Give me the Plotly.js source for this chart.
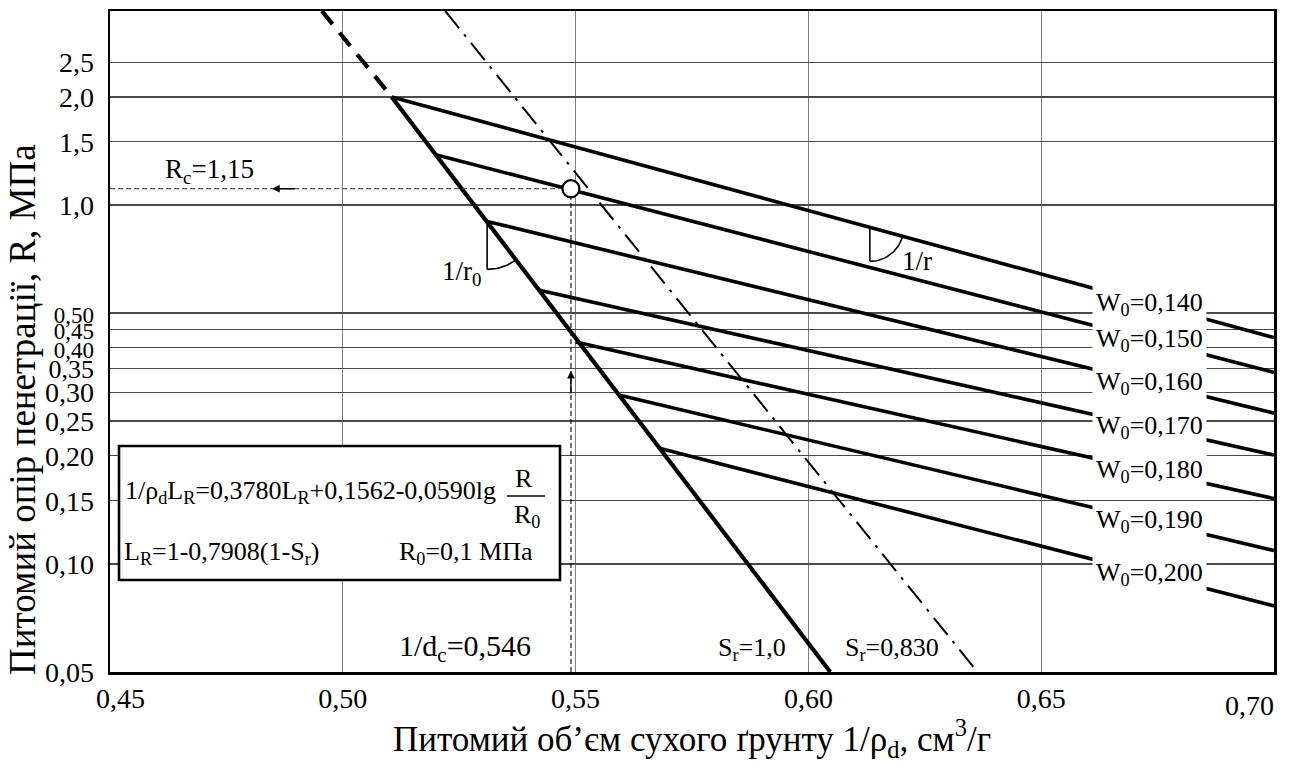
<!DOCTYPE html>
<html><head><meta charset="utf-8">
<script src="https://cdn.plot.ly/plotly-3.0.1.min.js"></script>
<style>body{margin:0;background:#fff}#chart{width:1289px;height:771px}</style>
</head><body><div id="chart"></div>
<script>
// ---------------- data ----------------
const xTickVals = [0.45, 0.50, 0.55, 0.60, 0.65, 0.70];
const xTickText = ['0,45', '0,50', '0,55', '0,60', '0,65', '0,70'];
const yTickVals = [0.05, 0.10, 0.15, 0.20, 0.25, 0.30, 0.35, 0.40, 0.45, 0.50, 1.0, 1.5, 2.0, 2.5];
const yTickText = ['0,05', '0,10', '0,15', '0,20', '0,25', '0,30', '0,35', '0,40', '0,45', '0,50', '1,0', '1,5', '2,0', '2,5'];

// saturation line Sr = 1,0 (solid) and its dashed extrapolation above R = 2,0
const sr1X = [0.5105, 0.6047];
const sr1R = [2.0, 0.05];
const sr1ExtX = [0.4955, 0.5105];
const sr1ExtR = [3.47, 2.0];
// line Sr = 0,830 (dash-dot)
const sr083X = [0.522, 0.6363];
const sr083R = [3.47, 0.05];

// constant initial-moisture lines W0
const w0Labels = ['0,140', '0,150', '0,160', '0,170', '0,180', '0,190', '0,200'];
const w0StartX = [0.5105, 0.520, 0.531, 0.542, 0.550, 0.5595, 0.568];
const w0StartR = [2.0, 1.38, 0.90, 0.58, 0.415, 0.295, 0.21];
const w0EndX = [0.70, 0.70, 0.70, 0.70, 0.70, 0.70, 0.70];
const w0EndR = [0.427, 0.3415, 0.263, 0.201, 0.152, 0.109, 0.0764];

// determined point (drawn position)
const pointX = [0.549];
const pointR = [1.11];

// ---------------- layout constants ----------------
const FONT = 'Liberation Serif, Times New Roman, serif';
const W = 1289, H = 771;
const M = {l: 110, r: 15, t: 11, b: 99};
const plotW = W - M.l - M.r, plotH = H - M.t - M.b;
const xRange = [0.45, 0.70];
const yRange = [Math.log10(0.05), Math.log10(3.47)];
const pxX = plotW / (xRange[1] - xRange[0]);
const pxDec = plotH / (yRange[1] - yRange[0]);
const lg = Math.log10;

function lgAt(x0, r0, x1, r1, x) {
  const t = (x - x0) / (x1 - x0);
  return lg(r0) + t * (lg(r1) - lg(r0));
}
function screenAngle(x0, r0, x1, r1) {
  const dx = (x1 - x0) * pxX;
  const dy = -(lg(r1) - lg(r0)) * pxDec;
  return Math.atan2(dy, dx);
}
function arcPts(cx, cLg, rad, a0, a1, n) {
  const xs = [], ys = [];
  for (let i = 0; i <= n; i++) {
    const a = a0 + (a1 - a0) * i / n;
    xs.push(cx + rad * Math.cos(a) / pxX);
    ys.push(Math.pow(10, cLg - rad * Math.sin(a) / pxDec));
  }
  return {x: xs, y: ys};
}

const traces = [];
const black = '#000';

// W0 lines
for (let i = 0; i < w0Labels.length; i++) {
  traces.push({x: [w0StartX[i], w0EndX[i]], y: [w0StartR[i], w0EndR[i]], mode: 'lines',
    line: {color: black, width: 3.6}});
}
// Sr lines
traces.push({x: sr1X, y: sr1R, mode: 'lines', line: {color: black, width: 4.2}});
traces.push({x: sr1ExtX, y: sr1ExtR, mode: 'lines', line: {color: black, width: 4.2, dash: '17px,11px'}});
traces.push({x: sr083X, y: sr083R, mode: 'lines', line: {color: black, width: 2, dash: '22px,8px,3px,8px'}});

// guide lines to the axes
traces.push({x: [xRange[0], pointX[0]], y: [pointR[0], pointR[0]], mode: 'lines',
  line: {color: '#555', width: 1.2, dash: '5px,3px'}});
traces.push({x: [pointX[0], pointX[0]], y: [0.05, pointR[0]], mode: 'lines',
  line: {color: '#000', width: 1.1, dash: '5px,3px'}});

// angle marks: 1/r0 at start of W0=0,160 and 1/r on W0=0,140
const i160 = 2;
const c0x = w0StartX[i160], c0lg = lg(w0StartR[i160]);
const rad0 = 48;
const tick0Bottom = Math.pow(10, c0lg - rad0 / pxDec);
traces.push({x: [c0x, c0x], y: [w0StartR[i160], tick0Bottom], mode: 'lines', line: {color: black, width: 1.6}});
const aSr1 = screenAngle(sr1X[0], sr1R[0], sr1X[1], sr1R[1]);
const arc0 = arcPts(c0x, c0lg, rad0, Math.PI / 2, aSr1, 20);
traces.push({x: arc0.x, y: arc0.y, mode: 'lines', line: {color: black, width: 1.6}});

const i140 = 0;
const c1x = 0.6132;
const c1lg = lgAt(w0StartX[i140], w0StartR[i140], w0EndX[i140], w0EndR[i140], c1x);
const rad1 = 34;
const tick1Bottom = Math.pow(10, c1lg - rad1 / pxDec);
traces.push({x: [c1x, c1x], y: [Math.pow(10, c1lg), tick1Bottom], mode: 'lines', line: {color: black, width: 1.6}});
const aW = screenAngle(w0StartX[i140], w0StartR[i140], w0EndX[i140], w0EndR[i140]);
const arc1 = arcPts(c1x, c1lg, rad1, Math.PI / 2, aW, 20);
traces.push({x: arc1.x, y: arc1.y, mode: 'lines', line: {color: black, width: 1.6}});

// point
traces.push({x: pointX, y: pointR, mode: 'markers',
  marker: {symbol: 'circle', size: 17, color: '#fff', line: {color: black, width: 2.2}}});

traces.forEach(t => { t.showlegend = false; t.hoverinfo = 'skip'; t.type = 'scatter'; });
// empty trace that only carries the twin x axis (used for the right-aligned last tick label)
traces.push({type: 'scatter', x: [], y: [], xaxis: 'x2', yaxis: 'y', mode: 'lines', showlegend: false, hoverinfo: 'skip'});

// ---------------- annotations ----------------
const ann = [];
const base = {showarrow: false, xanchor: 'center', yanchor: 'middle'};
const labelX = 0.6733;
for (let i = 0; i < w0Labels.length; i++) {
  ann.push(Object.assign({}, base, {x: labelX, y: lgAt(w0StartX[i], w0StartR[i], w0EndX[i], w0EndR[i], labelX),
    xref: 'x', yref: 'y', text: 'W<sub>0</sub>=' + w0Labels[i],
    font: {family: FONT, size: 26, color: black}, bgcolor: '#fff', borderpad: 3}));
}
ann.push(Object.assign({}, base, {x: 0.4713, y: lg(pointR[0]), xref: 'x', yref: 'y', yshift: 18,
  text: 'R<sub>c</sub>=1,15', font: {family: FONT, size: 27, color: black}}));
ann.push({x: 0.4848, y: lg(pointR[0]), xref: 'x', yref: 'y', ax: 24, ay: 0, text: '',
  showarrow: true, arrowhead: 2, arrowsize: 1.1, arrowwidth: 1.4, arrowcolor: black});
ann.push({x: pointX[0], y: lg(0.345), xref: 'x', yref: 'y', ax: 0, ay: 24, text: '',
  showarrow: true, arrowhead: 2, arrowsize: 1.1, arrowwidth: 1.4, arrowcolor: black});
ann.push(Object.assign({}, base, {x: c0x, y: lg(tick0Bottom), xref: 'x', yref: 'y', xanchor: 'right', xshift: -4, yshift: -4,
  text: '1/r<sub>0</sub>', font: {family: FONT, size: 27, color: black}}));
ann.push(Object.assign({}, base, {x: c1x, y: lg(tick1Bottom), xref: 'x', yref: 'y', xanchor: 'left', xshift: 30, yshift: 0,
  text: '1/r', font: {family: FONT, size: 27, color: black}}));
ann.push(Object.assign({}, base, {x: 0.5262, y: 0, xref: 'x', yref: 'paper', yanchor: 'bottom', yshift: 3,
  text: '1/d<sub>c</sub>=0,546', font: {family: FONT, size: 30, color: black}}));
ann.push(Object.assign({}, base, {x: 0.5879, y: 0, xref: 'x', yref: 'paper', yanchor: 'bottom', yshift: 5,
  text: 'S<sub>r</sub>=1,0', font: {family: FONT, size: 26, color: black}}));
ann.push(Object.assign({}, base, {x: 0.618, y: 0, xref: 'x', yref: 'paper', yanchor: 'bottom', yshift: 5,
  text: 'S<sub>r</sub>=0,830', font: {family: FONT, size: 26, color: black}}));

// formula box contents (paper coordinates)
const px2paperX = px => (px - M.l) / plotW;
const px2paperY = py => (H - M.b - py) / plotH;
const fFont = {family: FONT, size: 26, color: black};
ann.push(Object.assign({}, base, {x: px2paperX(123), y: px2paperY(492), xref: 'paper', yref: 'paper', xanchor: 'left',
  text: '1/ρ<sub>d</sub>L<sub>R</sub>=0,3780L<sub>R</sub>+0,1562-0,0590lg', font: fFont}));
ann.push(Object.assign({}, base, {x: px2paperX(524), y: px2paperY(478), xref: 'paper', yref: 'paper',
  text: 'R', font: fFont}));
ann.push(Object.assign({}, base, {x: px2paperX(527), y: px2paperY(516), xref: 'paper', yref: 'paper',
  text: 'R<sub>0</sub>', font: fFont}));
ann.push(Object.assign({}, base, {x: px2paperX(122), y: px2paperY(553), xref: 'paper', yref: 'paper', xanchor: 'left',
  text: 'L<sub>R</sub>=1-0,7908(1-S<sub>r</sub>)', font: fFont}));
ann.push(Object.assign({}, base, {x: px2paperX(397), y: px2paperY(553), xref: 'paper', yref: 'paper', xanchor: 'left',
  text: 'R<sub>0</sub>=0,1 МПа', font: fFont}));

// y-axis title, placed lower along the axis as in the reference
ann.push(Object.assign({}, base, {x: px2paperX(22), y: px2paperY(410), xref: 'paper', yref: 'paper',
  textangle: -90, text: 'Питомий опір пенетрації, R, МПа', font: {family: FONT, size: 37, color: black}}));

const shapes = [
  {type: 'rect', xref: 'paper', yref: 'paper', x0: px2paperX(119), x1: px2paperX(560),
    y0: px2paperY(580), y1: px2paperY(446), fillcolor: '#fff', line: {color: black, width: 2.6}, layer: 'above'},
  {type: 'line', xref: 'paper', yref: 'paper', x0: px2paperX(507), x1: px2paperX(545),
    y0: px2paperY(496), y1: px2paperY(496), line: {color: black, width: 1.4}, layer: 'above'}
];

// tick label text: first x label nudged right; last x label drawn right-aligned on a twin axis
const nb = '\u00a0';
const xTextMain = xTickText.slice(0, -1);
xTextMain[0] = nb.repeat(3) + xTextMain[0];
const xValsMain = xTickVals.slice(0, -1);
const xValsLast = xTickVals.slice(-1);
const xTextLast = xTickText.slice(-1);
// crowded y labels drawn a little smaller
const crowded = {'0,50': 23, '0,45': 23, '0,40': 23, '0,35': 26};
const yText = yTickText.map(t => crowded[t] ? '<span style="font-size:' + crowded[t] + 'px">' + t + '</span>' : t);

const tickFont = {family: FONT, size: 28, color: black};
const layout = {
  width: W, height: H,
  margin: M,
  paper_bgcolor: '#fff', plot_bgcolor: '#fff',
  font: {family: FONT, color: black},
  showlegend: false,
  xaxis: {
    range: xRange, type: 'linear', tickmode: 'array', tickvals: xValsMain, ticktext: xTextMain,
    tickfont: tickFont, ticks: '', ticklabelstandoff: 0,
    showgrid: true, gridcolor: '#808080', gridwidth: 1.3, zeroline: false,
    showline: true, linecolor: black, linewidth: 2.5, mirror: true, automargin: false,
    title: {text: 'Питомий об’єм сухого ґрунту 1/ρ<sub>d</sub>, см<sup>3</sup>/г',
      font: {family: FONT, size: 35, color: black}, standoff: 0}
  },
  xaxis2: {
    overlaying: 'x', anchor: 'y', side: 'bottom', range: xRange, type: 'linear',
    tickmode: 'array', tickvals: xValsLast, ticktext: xTextLast, ticklabelposition: 'outside left',
    tickfont: tickFont, ticks: '', ticklabelstandoff: 14,
    showgrid: false, zeroline: false, showline: false, automargin: false
  },
  yaxis: {
    type: 'log', range: yRange, tickmode: 'array', tickvals: yTickVals, ticktext: yText,
    tickfont: tickFont, ticks: '', ticklabelstandoff: 8,
    showgrid: true, gridcolor: '#4a4a4a', gridwidth: 1.2, zeroline: false,
    showline: true, linecolor: black, linewidth: 2.5, mirror: true, automargin: false
  },
  annotations: ann,
  shapes: shapes
};

Plotly.newPlot('chart', traces, layout, {staticPlot: true, displayModeBar: false});
</script>
</body></html>
